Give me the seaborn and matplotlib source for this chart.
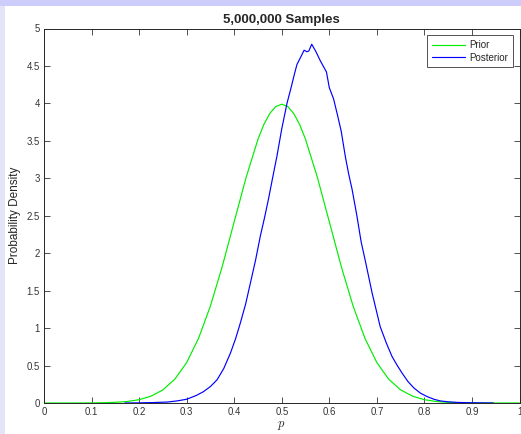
#!/usr/bin/env python3
import numpy as np
import pandas as pd
import matplotlib
matplotlib.use("Agg")
import matplotlib.pyplot as plt
from matplotlib.patches import Rectangle
import seaborn as sns

# Prior curve
prior_x = [0.0, 0.05, 0.1, 0.125, 0.15, 0.175, 0.2, 0.225, 0.25, 0.275, 0.3, 0.325,
           0.35, 0.375, 0.4, 0.425, 0.45, 0.4625, 0.475, 0.4875, 0.5, 0.5125, 0.525,
           0.5375, 0.55, 0.575, 0.6, 0.625, 0.65, 0.675, 0.7, 0.725, 0.75, 0.775,
           0.8, 0.825, 0.85, 0.875, 0.9, 0.95, 1.0]
prior_y = [0.0, 0.0, 0.001, 0.004, 0.009, 0.02, 0.044, 0.091, 0.175, 0.317, 0.54, 0.863,
           1.295, 1.826, 2.42, 3.011, 3.521, 3.72, 3.867, 3.959, 3.989, 3.959, 3.867,
           3.72, 3.521, 3.011, 2.42, 1.826, 1.295, 0.863, 0.54, 0.317, 0.175, 0.091,
           0.044, 0.02, 0.009, 0.004, 0.001, 0.0, 0.0]

# Posterior curve (noisy estimate from samples)
post_x = [0.17, 0.20, 0.23, 0.26, 0.28, 0.30, 0.32, 0.335, 0.35, 0.364, 0.378, 0.392,
          0.403, 0.413, 0.424, 0.434, 0.445, 0.455, 0.464, 0.472, 0.480, 0.490, 0.500,
          0.511, 0.520, 0.527, 0.532, 0.540, 0.547, 0.553, 0.557, 0.563, 0.572, 0.581,
          0.594, 0.600, 0.609, 0.617, 0.625, 0.634, 0.641, 0.648, 0.658, 0.667, 0.675,
          0.690, 0.707, 0.720, 0.732, 0.743, 0.753, 0.765, 0.778, 0.792, 0.806, 0.820,
          0.834, 0.850, 0.869, 0.90, 0.945]
post_y = [0.0, 0.002, 0.006, 0.013, 0.028, 0.05, 0.10, 0.15, 0.22, 0.31, 0.46, 0.665,
          0.86, 1.07, 1.32, 1.60, 1.91, 2.23, 2.48, 2.72, 2.98, 3.30, 3.66,
          4.00, 4.22, 4.40, 4.52, 4.62, 4.71, 4.69, 4.70, 4.79, 4.69, 4.57,
          4.42, 4.21, 4.06, 3.85, 3.63, 3.28, 3.05, 2.85, 2.50, 2.15, 1.92,
          1.47, 1.02, 0.80, 0.62, 0.50, 0.40, 0.29, 0.20, 0.13, 0.085, 0.05,
          0.027, 0.016, 0.008, 0.003, 0.0]

xticks = [0, 0.1, 0.2, 0.3, 0.4, 0.5, 0.6, 0.7, 0.8, 0.9, 1]
xtick_labels = ["0", "0.1", "0.2", "0.3", "0.4", "0.5", "0.6", "0.7", "0.8", "0.9", "1"]
yticks = [0, 0.5, 1, 1.5, 2, 2.5, 3, 3.5, 4, 4.5, 5]
ytick_labels = ["0", "0.5", "1", "1.5", "2", "2.5", "3", "3.5", "4", "4.5", "5"]

sns.set_theme(style="ticks")
plt.rcParams['font.family'] = ['Liberation Sans', 'DejaVu Sans']
plt.rcParams['mathtext.fontset'] = 'cm'

fig = plt.figure(figsize=(5.21, 4.34), dpi=100)
fig.patch.set_facecolor("white")
# lavender window border on top and left
fig.patches.append(Rectangle((0, 1 - 6 / 434), 1, 6 / 434, transform=fig.transFigure,
                             facecolor="#cdcdfb", edgecolor="none", zorder=0))
fig.patches.append(Rectangle((0, 0), 5 / 521, 1 - 6 / 434, transform=fig.transFigure,
                             facecolor="#e4e4f9", edgecolor="none", zorder=0))

ax = fig.add_axes([44 / 521, 31 / 434, 475.5 / 521, 374.5 / 434])

prior = pd.DataFrame({"p": prior_x, "density": prior_y})
post = pd.DataFrame({"p": post_x, "density": post_y})
sns.lineplot(data=prior, x="p", y="density", ax=ax, color="#00ee00", lw=0.85, label="Prior")
sns.lineplot(data=post, x="p", y="density", ax=ax, color="#0000ff", lw=0.85, label="Posterior")

ax.set_xlim(0, 1)
ax.set_ylim(0, 5)
ax.set_xticks(xticks)
ax.set_xticklabels(xtick_labels)
ax.set_yticks(yticks)
ax.set_yticklabels(ytick_labels)
ax.tick_params(direction="in", top=True, right=True, length=4, width=0.6,
               labelsize=6.9, colors="#333333", pad=3)
for s in ax.spines.values():
    s.set_color("#262626")
    s.set_linewidth(0.7)

ax.set_title("5,000,000 Samples", fontsize=9.5, fontweight="bold", pad=4)
ax.set_xlabel("$p$", fontsize=9, labelpad=1)
ax.set_ylabel("Probability Density", fontsize=8.5, labelpad=4)

leg = ax.legend(loc="upper right", fontsize=7, frameon=True, fancybox=False,
                edgecolor="#262626", handlelength=3.4, borderpad=0.5,
                labelspacing=0.25, handletextpad=0.4, borderaxespad=0.7)
leg.get_frame().set_linewidth(0.7)

fig.savefig("out.png", dpi=100)
